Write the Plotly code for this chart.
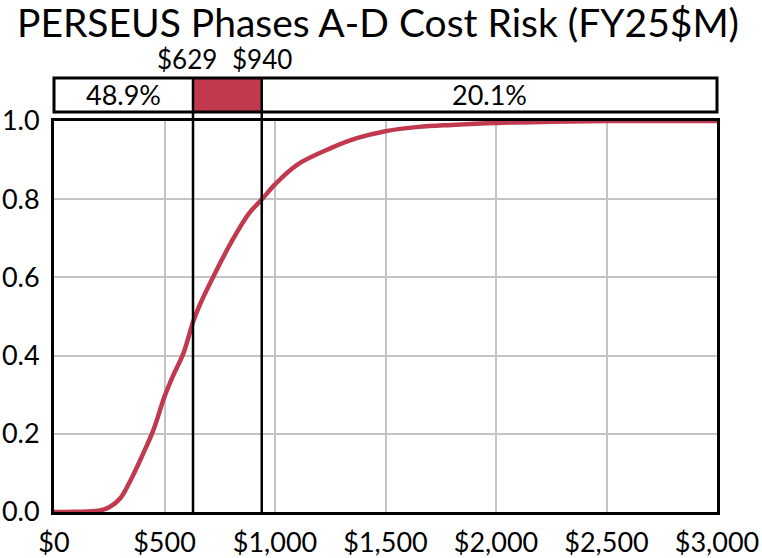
import plotly.graph_objects as go

# ---- data ----
cost = [0, 100, 200, 250, 300, 350, 400, 450, 500, 540, 585, 610, 629, 660, 700, 800,
        880, 940, 1000, 1100, 1250, 1370, 1500, 1650, 1800, 2000, 2250, 2500, 3000]
cum_prob = [0.0, 0.0005, 0.003, 0.012, 0.035, 0.085, 0.145, 0.21, 0.295, 0.35,
            0.405, 0.45, 0.486, 0.53, 0.578, 0.688, 0.762, 0.799, 0.838, 0.888, 0.93,
            0.956, 0.974, 0.985, 0.99, 0.995, 0.998, 1.0, 1.0]
marks = [629, 940]
mark_labels = ["$629", "$940"]
below_pct = "48.9%"
above_pct = "20.1%"
x_ticks = [0, 500, 1000, 1500, 2000, 2500, 3000]
y_ticks = [0.0, 0.2, 0.4, 0.6, 0.8, 1.0]
title = "PERSEUS Phases A-D Cost Risk (FY25$M)"

RED = "#c0394f"
FONT = "Lato"
FS = 27

fig = go.Figure()
fig.add_trace(go.Scatter(x=cost, y=cum_prob, mode="lines",
                         line=dict(color=RED, width=4.5, shape="spline", smoothing=1.0),
                         hoverinfo="skip", showlegend=False))

# triangles on top of the band
fig.add_trace(go.Scatter(x=marks, y=[1.115] * len(marks), mode="markers",
                         marker=dict(symbol="triangle-down", size=14, color="black"),
                         cliponaxis=False, showlegend=False, hoverinfo="skip"))

box_bot, box_top = 1.023, 1.110
shapes = [
    dict(type="rect", xref="x", yref="paper", x0=marks[0], x1=marks[1],
         y0=box_bot, y1=box_top, fillcolor=RED, line=dict(width=0), layer="below"),
    dict(type="rect", xref="paper", yref="paper", x0=0, x1=1,
         y0=box_bot, y1=box_top, line=dict(color="black", width=3)),
]
for m in marks:
    shapes.append(dict(type="line", xref="x", yref="paper", x0=m, x1=m,
                       y0=0, y1=box_top, line=dict(color="black", width=2.5)))

afont = dict(size=FS, color="black", family=FONT)
annotations = [
    dict(text=below_pct, x=marks[0] / 2, y=(box_bot + box_top) / 2, xref="x", yref="paper",
         xanchor="center", yanchor="middle", showarrow=False, font=afont),
    dict(text=above_pct, x=(marks[1] + x_ticks[-1]) / 2, y=(box_bot + box_top) / 2,
         xref="x", yref="paper", xanchor="center", yanchor="middle",
         showarrow=False, font=afont),
]
for m, lab, sh in zip(marks, mark_labels, [-6, 0]):
    annotations.append(dict(text=lab, x=m, y=1.158, xref="x", yref="paper",
                            xanchor="center", yanchor="middle",
                            showarrow=False, xshift=sh,
                            font=dict(size=26, color="black", family=FONT)))

W, H = 762, 558
fig.update_layout(
    width=W, height=H,
    margin=dict(l=54, r=45, t=121, b=46, autoexpand=False),
    paper_bgcolor="white", plot_bgcolor="white",
    title=dict(text=title, x=378 / W, xref="container", xanchor="center",
               y=1 - 23 / H, yref="container", yanchor="middle",
               font=dict(size=39, color="black", family=FONT)),
    font=dict(family=FONT, color="black", size=FS),
    shapes=shapes, annotations=annotations,
    xaxis=dict(range=[0, 3000], tickvals=x_ticks,
               ticktext=[f"${v:,}" for v in x_ticks], automargin=False,
               showgrid=True, gridcolor="#c4c4c8", gridwidth=2, zeroline=False,
               showline=True, linecolor="black", linewidth=3, mirror=True,
               ticks="", ticklabelstandoff=5, tickfont=dict(size=FS)),
    yaxis=dict(range=[0, 1.0], tickvals=y_ticks,
               ticktext=[f"{v:.1f}" for v in y_ticks], automargin=False,
               showgrid=True, gridcolor="#c4c4c8", gridwidth=2, zeroline=False,
               showline=True, linecolor="black", linewidth=3, mirror=True,
               ticks="", ticklabelstandoff=6, tickfont=dict(size=FS)),
)

fig.write_html("out.html", config={"displayModeBar": False, "staticPlot": True},
               post_script="document.body.style.margin='0';document.body.style.padding='0';")
